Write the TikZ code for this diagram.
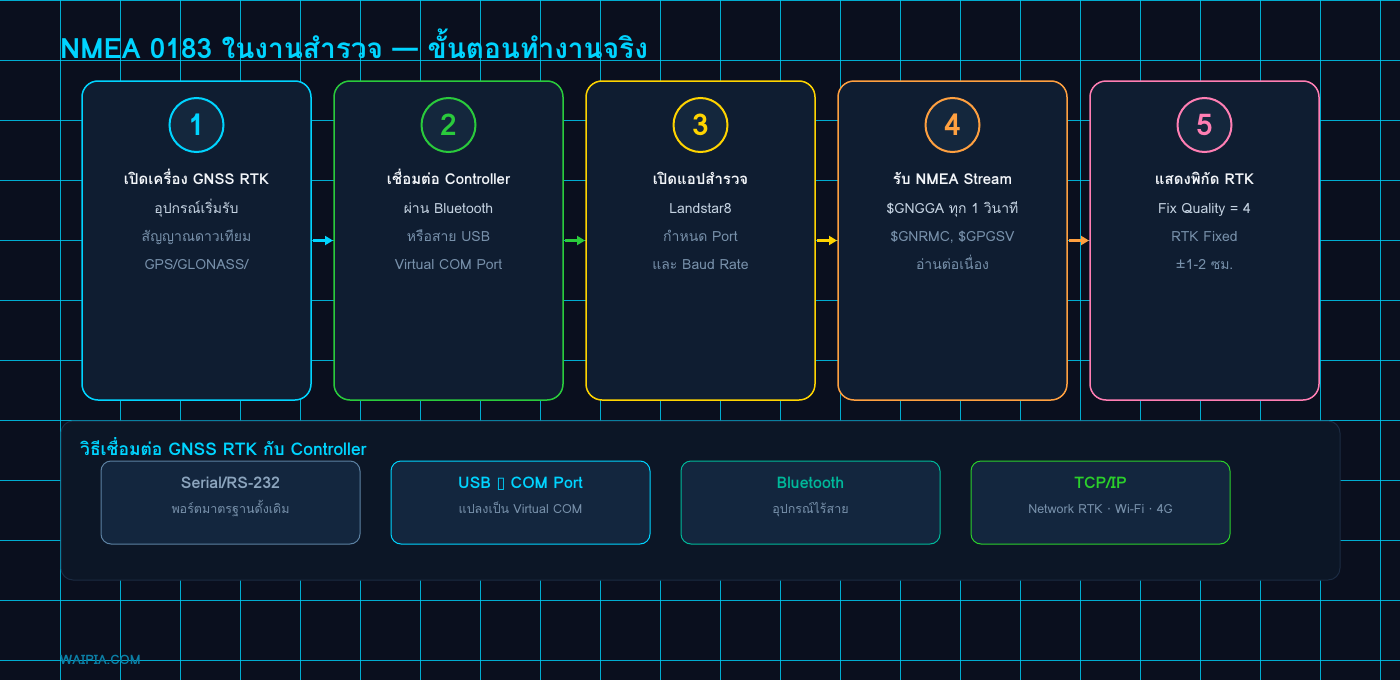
\documentclass[tikz,border=0pt]{standalone}
\usepackage{fontspec}
\setmainfont[Script=Thai]{Loma}
\newfontfamily\symfont{DejaVu Sans}
\usepackage{xcolor}
\usetikzlibrary{positioning, arrows.meta}

\definecolor{bgcol}{HTML}{0A0F1E}
\definecolor{gridcol}{HTML}{00C8F0}
\definecolor{cardfill}{HTML}{0F1D31}
\definecolor{circfill}{HTML}{14273D}
\definecolor{stepcyan}{HTML}{00D4FF}
\definecolor{stepgreen}{HTML}{2ACB3C}
\definecolor{stepyellow}{HTML}{FFD400}
\definecolor{steporange}{HTML}{FFA040}
\definecolor{steppink}{HTML}{FF7EB3}
\definecolor{headtxt}{HTML}{F2F5F9}
\definecolor{firsttxt}{HTML}{C5D3E2}
\definecolor{dimtxt}{HTML}{7891AB}
\definecolor{paneltone}{HTML}{0C1626}
\definecolor{panelline}{HTML}{1B2B42}
\definecolor{boxfill}{HTML}{13263E}
\definecolor{serialcol}{HTML}{5C81A2}
\definecolor{serialtxt}{HTML}{8CA5BE}
\definecolor{tealcol}{HTML}{00B89A}
\definecolor{netgreen}{HTML}{2BD02B}
\definecolor{marktxt}{HTML}{0C7FA6}

\tikzset{
  stepcard/.style={draw=#1, line width=1.5pt, fill=cardfill, rounded corners=16pt,
    minimum width=229pt, minimum height=319pt, inner sep=0pt, outer sep=0pt},
  numcirc/.style={circle, draw=#1, line width=2pt, fill=circfill, minimum size=54pt,
    inner sep=0pt, text=#1, font=\fontsize{30}{32}\selectfont\bfseries},
  headtext/.style={anchor=base, text=headtxt, font=\fontsize{15}{17}\selectfont\bfseries},
  linetext/.style={anchor=base, text=#1, font=\fontsize{14}{16}\selectfont},
  flowarrow/.style={-{Triangle[length=8pt,width=9pt]}, line width=2.5pt, draw=#1, shorten <=2pt, shorten >=1pt},
  waybox/.style={draw=#1, line width=1pt, fill=boxfill, rounded corners=10pt,
    minimum width=259pt, minimum height=83pt, inner sep=0pt, outer sep=0pt},
  waytitle/.style={anchor=base, text=#1, font=\fontsize{16}{18}\selectfont\bfseries},
  waytext/.style={anchor=base, text=dimtxt, font=\fontsize{12.5}{14}\selectfont}
}

\begin{document}
\begin{tikzpicture}[x=1pt, y=-1pt, node distance=23pt]
  % background and grid
  \fill[bgcol] (0,0) rectangle (1400,680);
  \useasboundingbox (0,0) rectangle (1400,680);
  \foreach \gx in {60,120,...,1380}
    \draw[gridcol, line width=1pt, opacity=0.85] (\gx,0) -- (\gx,680);
  \foreach \gy in {0,60,...,660}
    \draw[gridcol, line width=1pt, opacity=0.85] (0,\gy) -- (1400,\gy);

  % title
  \node[anchor=base west, text=stepcyan, font=\fontsize{28}{32}\selectfont\bfseries, inner sep=0pt] (title) at (60,58) {NMEA 0183 ในงานสำรวจ — ขั้นตอนทำงานจริง};

  % step cards
  \node[stepcard=stepcyan] (card1) at (196.5,240.5) {};
  \node[stepcard=stepgreen, right=of card1] (card2) {};
  \node[stepcard=stepyellow, right=of card2] (card3) {};
  \node[stepcard=steporange, right=of card3] (card4) {};
  \node[stepcard=steppink, right=of card4] (card5) {};

  \draw[flowarrow=stepcyan] (card1) -- (card2);
  \draw[flowarrow=stepgreen] (card2) -- (card3);
  \draw[flowarrow=stepyellow] (card3) -- (card4);
  \draw[flowarrow=steporange] (card4) -- (card5);

  % card 1
  \node[numcirc=stepcyan] (num1) at ([yshift=-44pt]card1.north) {1};
  \node[headtext] (head1) at ([yshift=-103pt]card1.north) {เปิดเครื่อง GNSS RTK};
  \node[linetext=firsttxt] (txt1a) at ([yshift=-132pt]card1.north) {อุปกรณ์เริ่มรับ};
  \node[linetext=dimtxt] (txt1b) at ([yshift=-160pt]card1.north) {สัญญาณดาวเทียม};
  \node[linetext=dimtxt] (txt1c) at ([yshift=-188pt]card1.north) {GPS/GLONASS/};

  % card 2
  \node[numcirc=stepgreen] (num2) at ([yshift=-44pt]card2.north) {2};
  \node[headtext] (head2) at ([yshift=-103pt]card2.north) {เชื่อมต่อ Controller};
  \node[linetext=firsttxt] (txt2a) at ([yshift=-132pt]card2.north) {ผ่าน Bluetooth};
  \node[linetext=dimtxt] (txt2b) at ([yshift=-160pt]card2.north) {หรือสาย USB};
  \node[linetext=dimtxt] (txt2c) at ([yshift=-188pt]card2.north) {Virtual COM Port};

  % card 3
  \node[numcirc=stepyellow] (num3) at ([yshift=-44pt]card3.north) {3};
  \node[headtext] (head3) at ([yshift=-103pt]card3.north) {เปิดแอปสำรวจ};
  \node[linetext=firsttxt] (txt3a) at ([yshift=-132pt]card3.north) {Landstar8};
  \node[linetext=dimtxt] (txt3b) at ([yshift=-160pt]card3.north) {กำหนด Port};
  \node[linetext=dimtxt] (txt3c) at ([yshift=-188pt]card3.north) {และ Baud Rate};

  % card 4
  \node[numcirc=steporange] (num4) at ([yshift=-44pt]card4.north) {4};
  \node[headtext] (head4) at ([yshift=-103pt]card4.north) {รับ NMEA Stream};
  \node[linetext=firsttxt] (txt4a) at ([yshift=-132pt]card4.north) {\$GNGGA ทุก 1 วินาที};
  \node[linetext=dimtxt] (txt4b) at ([yshift=-160pt]card4.north) {\$GNRMC, \$GPGSV};
  \node[linetext=dimtxt] (txt4c) at ([yshift=-188pt]card4.north) {อ่านต่อเนื่อง};

  % card 5
  \node[numcirc=steppink] (num5) at ([yshift=-44pt]card5.north) {5};
  \node[headtext] (head5) at ([yshift=-103pt]card5.north) {แสดงพิกัด RTK};
  \node[linetext=firsttxt] (txt5a) at ([yshift=-132pt]card5.north) {Fix Quality = 4};
  \node[linetext=dimtxt] (txt5b) at ([yshift=-160pt]card5.north) {RTK Fixed};
  \node[linetext=dimtxt] (txt5c) at ([yshift=-188pt]card5.north) {±1-2 ซม.};

  % connection panel
  \node[draw=panelline, line width=1pt, fill=paneltone, rounded corners=12pt,
    minimum width=1279pt, minimum height=159pt, inner sep=0pt] (panel) at (700.5,500.5) {};
  \node[anchor=base west, inner sep=0pt, text=stepcyan, font=\fontsize{17.5}{20}\selectfont\bfseries] (paneltitle) at (80,455) {วิธีเชื่อมต่อ GNSS RTK กับ Controller};

  \node[waybox=serialcol] (way1) at (230.5,502.5) {};
  \node[waybox=stepcyan, right=31pt of way1] (way2) {};
  \node[waybox=tealcol, right=31pt of way2] (way3) {};
  \node[waybox=netgreen, right=31pt of way3] (way4) {};

  \node[waytitle=serialtxt] (waytitle1) at ([yshift=-27pt]way1.north) {Serial/RS-232};
  \node[waytext] (waytext1) at ([yshift=-52pt]way1.north) {พอร์ตมาตรฐานดั้งเดิม};
  \node[waytitle=stepcyan] (waytitle2) at ([yshift=-27pt]way2.north) {USB {\symfont\mdseries ▯} COM Port};
  \node[waytext] (waytext2) at ([yshift=-52pt]way2.north) {แปลงเป็น Virtual COM};
  \node[waytitle=tealcol] (waytitle3) at ([yshift=-27pt]way3.north) {Bluetooth};
  \node[waytext] (waytext3) at ([yshift=-52pt]way3.north) {อุปกรณ์ไร้สาย};
  \node[waytitle=netgreen] (waytitle4) at ([yshift=-27pt]way4.north) {TCP/IP};
  \node[waytext] (waytext4) at ([yshift=-52pt]way4.north) {Network RTK {\symfont ·} Wi-Fi {\symfont ·} 4G};

  % watermark
  \node[anchor=base west, inner sep=0pt, text=marktxt, font=\fontsize{13}{15}\selectfont\bfseries] (mark) at (60,664) {WAIPIA.COM};
\end{tikzpicture}
\end{document}
